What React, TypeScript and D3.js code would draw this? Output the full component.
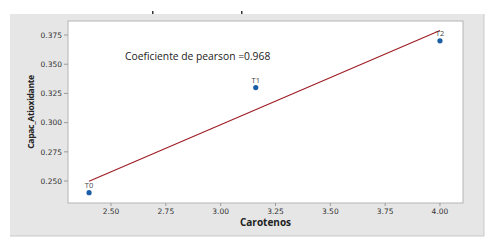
import React from "react";
import * as d3 from "d3";

// Treatments and their measured values
const categories = ["T0", "T1", "T2"];
const carotenos = [2.4, 3.16, 4.0];
const capacidad = [0.24, 0.33, 0.37];

const xTicks = [2.5, 2.75, 3.0, 3.25, 3.5, 3.75, 4.0];
const yTicks = [0.25, 0.275, 0.3, 0.325, 0.35, 0.375];
const pearsonText = "Coeficiente de pearson =0.968";

const W = 493;
const H = 246;
const panel = { x: 10, y: 14, w: 474, h: 222 };
const plot = { left: 68, top: 21, right: 463, bottom: 203 };

export default function App() {
  const x = d3.scaleLinear().domain([2.304, 4.105]).range([plot.left, plot.right]);
  const y = d3.scaleLinear().domain([0.2312, 0.3870]).range([plot.bottom, plot.top]);

  // Least-squares fit line across the observed range
  const mx = d3.mean(carotenos) as number;
  const my = d3.mean(capacidad) as number;
  const sxy = d3.sum(carotenos, (v, i) => (v - mx) * (capacidad[i] - my));
  const sxx = d3.sum(carotenos, (v) => (v - mx) * (v - mx));
  const slope = sxy / sxx;
  const intercept = my - slope * mx;
  const [x0, x1] = d3.extent(carotenos) as [number, number];
  const fit = d3
    .line<number>()
    .x((v) => x(v))
    .y((v) => y(intercept + slope * v))([x0, x1]);

  const tickFont = "'DejaVu Sans', sans-serif";
  const labelFont = "'Open Sans', 'DejaVu Sans', sans-serif";

  return (
    <svg
      width={W}
      height={H}
      style={{ position: "absolute", left: 0, top: 0, background: "#ffffff" }}
    >
      {/* outer panel */}
      <rect x={panel.x} y={panel.y} width={panel.w} height={panel.h} fill="#e6e6e6" />
      <line x1={panel.x + panel.w} x2={panel.x + panel.w} y1={panel.y} y2={panel.y + panel.h} stroke="#c9c9c9" />
      <line x1={panel.x} x2={panel.x + panel.w} y1={panel.y + panel.h} y2={panel.y + panel.h} stroke="#c9c9c9" />
      <rect x={152} y={11} width={1.5} height={3} fill="#333" />
      <rect x={241} y={11} width={1.5} height={3} fill="#333" />

      {/* plotting area */}
      <rect
        x={plot.left}
        y={plot.top}
        width={plot.right - plot.left}
        height={plot.bottom - plot.top}
        fill="#ffffff"
        stroke="#b4b4b4"
        strokeWidth={1}
      />

      {/* x axis */}
      {xTicks.map((t) => (
        <g key={"x" + t}>
          <line x1={x(t)} x2={x(t)} y1={plot.bottom} y2={plot.bottom + 3} stroke="#9a9a9a" />
          <text
            x={x(t)}
            y={plot.bottom + 11}
            textAnchor="middle"
            fontFamily={tickFont}
            fontSize={7.5}
            fill="#333"
          >
            {t.toFixed(2)}
          </text>
        </g>
      ))}

      {/* y axis */}
      {yTicks.map((t) => (
        <g key={"y" + t}>
          <line x1={plot.left - 4} x2={plot.left} y1={y(t)} y2={y(t)} stroke="#9a9a9a" />
          <text
            x={plot.left - 6}
            y={y(t) + 2.7}
            textAnchor="end"
            fontFamily={tickFont}
            fontSize={7.5}
            fill="#333"
          >
            {t.toFixed(3)}
          </text>
        </g>
      ))}

      {/* axis titles */}
      <text
        x={(plot.left + plot.right) / 2}
        y={226}
        textAnchor="middle"
        fontFamily={labelFont}
        fontSize={10}
        fontWeight="bold"
        fill="#222"
      >
        Carotenos
      </text>
      <text
        transform={`translate(34, ${(plot.top + plot.bottom) / 2}) rotate(-90)`}
        textAnchor="middle"
        fontFamily={labelFont}
        fontSize={8.5}
        fontWeight="bold"
        letterSpacing={-0.3}
        fill="#222"
      >
        Capac_Atioxidante
      </text>

      {/* regression line */}
      <path d={fit ?? ""} fill="none" stroke="#9e1b22" strokeWidth={1.1} />

      {/* points with labels */}
      {categories.map((c, i) => (
        <g key={c}>
          <circle cx={x(carotenos[i])} cy={y(capacidad[i])} r={2.6} fill="#1c5ea6" />
          <text
            x={x(carotenos[i])}
            y={y(capacidad[i]) - 5}
            textAnchor="middle"
            fontFamily={labelFont}
            fontSize={7.5}
            fill="#444"
          >
            {c}
          </text>
        </g>
      ))}

      {/* correlation annotation */}
      <text x={125} y={60} fontFamily={labelFont} fontSize={10.3} fill="#222">
        {pearsonText}
      </text>
    </svg>
  );
}
